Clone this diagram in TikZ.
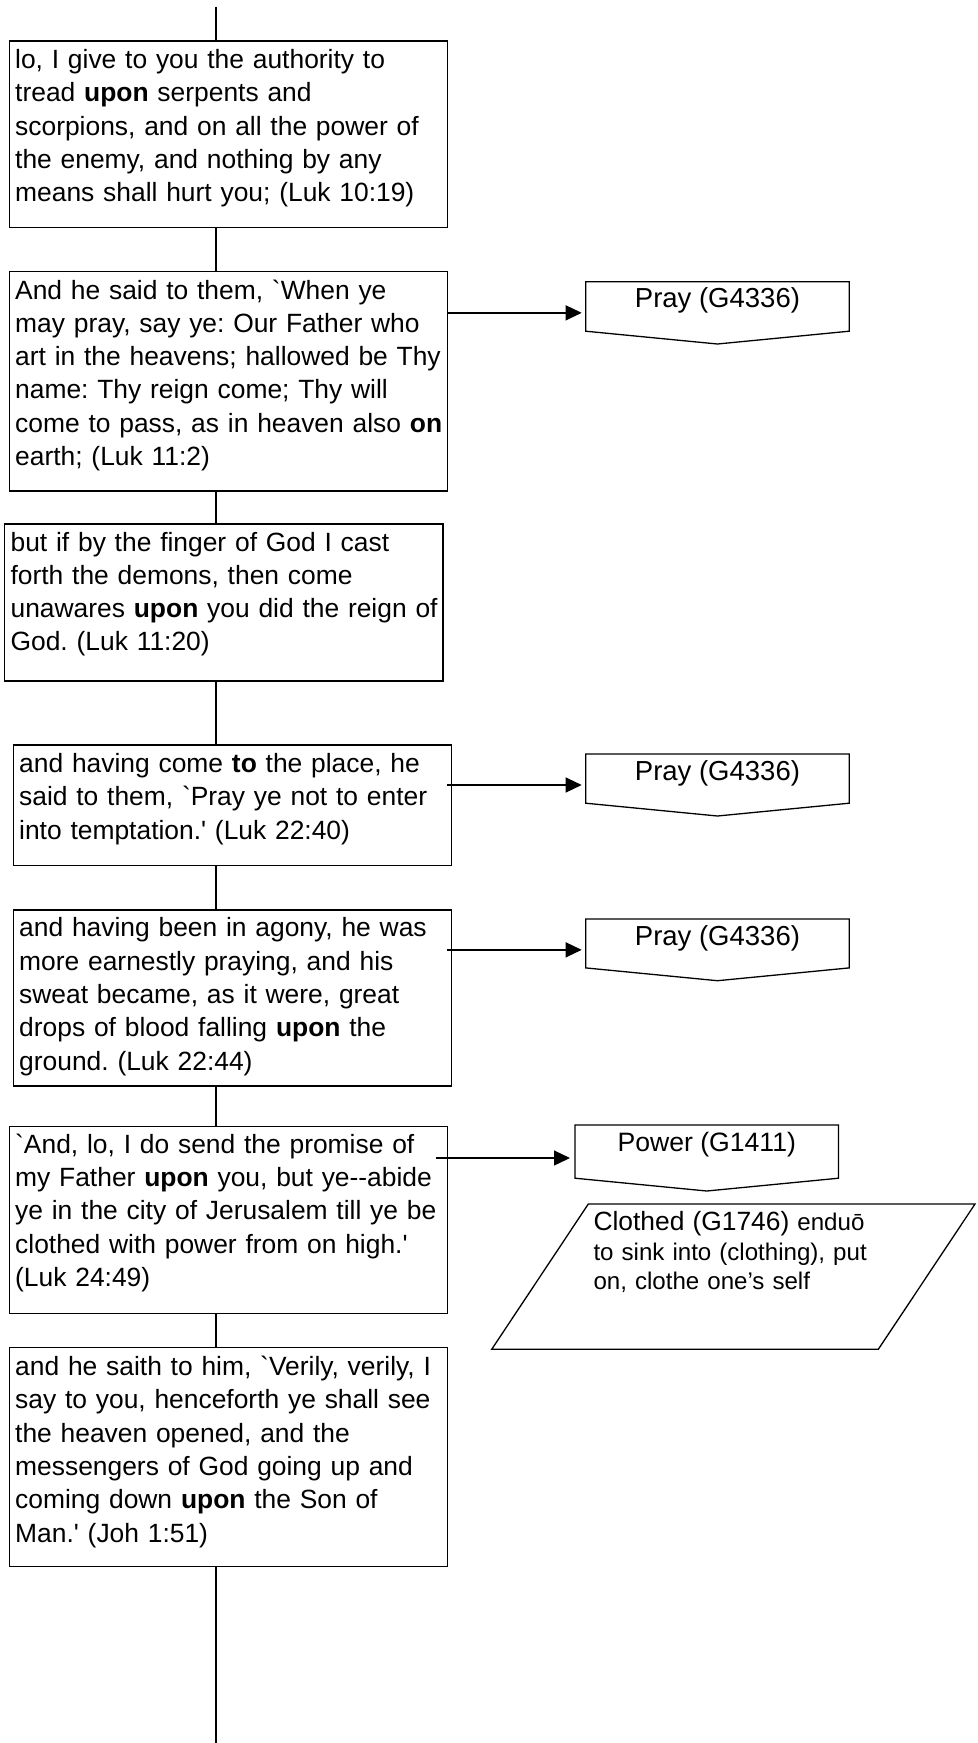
\documentclass[tikz,border=0pt]{standalone}
\usepackage{fontspec}
\newfontfamily\lsans{Liberation Sans}
\usetikzlibrary{arrows.meta,calc}
\frenchspacing
\begin{document}
\frenchspacing
\begin{tikzpicture}[x=1bp,y=-1bp,
  vbox/.style={draw, line width=1.3bp, minimum width=438.4bp, anchor=north west, inner sep=0pt, outer sep=0pt},
  vtxt/.style={anchor=base west, inner sep=0pt, text width=432bp, align=left,
    font=\lsans\frenchspacing\fontsize{26.4bp}{33.3bp}\selectfont},
  conn/.style={line width=1.3bp},
  arr/.style={line width=1.3bp, -{Triangle[length=16bp,width=15bp]}},
  frame/.style={draw=none, anchor=north west, inner sep=0pt, outer sep=0pt, minimum width=263.5bp},
  sh/.style={line width=1.3bp, line join=miter},
  ptxt/.style={anchor=base, inner sep=0pt, font=\lsans\fontsize{27.5bp}{33bp}\selectfont},
  wtxt/.style={anchor=base, inner sep=0pt, font=\lsans\fontsize{26.6bp}{33bp}\selectfont},
  ctxt/.style={anchor=base west, inner sep=0pt, text width=300bp, align=left,
    font=\lsans\frenchspacing\fontsize{24.1bp}{28.4bp}\selectfont}
]
\useasboundingbox (0,0) rectangle (977,1743);
\coordinate (top) at (216,6.7);
\coordinate (end) at (216,1743);

% main boxes
\node[vbox, minimum height=186.7bp] (b1) at (9.3,41) {};
\node[vbox, minimum height=219.3bp] (b2) at (9.3,271.7) {};
\node[vbox, minimum height=157bp]   (b3) at (4.7,524) {};
\node[vbox, minimum height=120.3bp] (b4) at (13.3,745) {};
\node[vbox, minimum height=176bp]   (b5) at (13.3,910) {};
\node[vbox, minimum height=186.6bp] (b6) at (9.3,1126.7) {};
\node[vbox, minimum height=219bp]   (b7) at (9.3,1347.7) {};

\node[vtxt] (t1) at ($(b1.north west)+(5.7,27.6)$) {lo, I give to you the authority to\\tread \textbf{upon} serpents and\\scorpions, and on all the power of\\the enemy, and nothing by any\\means shall hurt you; (Luk 10:19)};
\node[vtxt] (t2) at ($(b2.north west)+(5.7,27.3)$) {And he said to them, `When ye\\may pray, say ye: Our Father who\\art in the heavens; hallowed be Thy\\name: Thy reign come; Thy will\\come to pass, as in heaven also \textbf{on}\\earth; (Luk 11:2)};
\node[vtxt] (t3) at ($(b3.north west)+(5.7,27)$) {but if by the finger of God I cast\\forth the demons, then come\\unawares \textbf{upon} you did the reign of\\God. (Luk 11:20)};
\node[vtxt] (t4) at ($(b4.north west)+(5.7,27.6)$) {and having come \textbf{to} the place, he\\said to them, `Pray ye not to enter\\into temptation.' (Luk 22:40)};
\node[vtxt] (t5) at ($(b5.north west)+(5.7,26.8)$) {and having been in agony, he was\\more earnestly praying, and his\\sweat became, as it were, great\\drops of blood falling \textbf{upon} the\\ground. (Luk 22:44)};
\node[vtxt] (t6) at ($(b6.north west)+(5.7,26.6)$) {`And, lo, I do send the promise of\\my Father \textbf{upon} you, but ye--abide\\ye in the city of Jerusalem till ye be\\clothed with power from on high.'\\(Luk 24:49)};
\node[vtxt] (t7) at ($(b7.north west)+(5.7,27.8)$) {and he saith to him, `Verily, verily, I\\say to you, henceforth ye shall see\\the heaven opened, and the\\messengers of God going up and\\coming down \textbf{upon} the Son of\\Man.' (Joh 1:51)};

% spine
\draw[conn] (top) -- (top |- b1.north);
\draw[conn] (b1.south -| top) -- (b2.north -| top);
\draw[conn] (b2.south -| top) -- (b3.north -| top);
\draw[conn] (b3.south -| top) -- (b4.north -| top);
\draw[conn] (b4.south -| top) -- (b5.north -| top);
\draw[conn] (b5.south -| top) -- (b6.north -| top);
\draw[conn] (b6.south -| top) -- (b7.north -| top);
\draw[conn] (b7.south -| top) -- (end);

% Pray shapes
\node[frame, minimum height=62.3bp] (p1) at (585.7,281.7) {};
\node[frame, minimum height=62bp]   (p2) at (585.7,754) {};
\node[frame, minimum height=61.7bp] (p3) at (585.7,919) {};
\node[frame, minimum height=66bp]   (w1) at (575,1125) {};
\foreach \p in {p1,p2,p3,w1}{
  \draw[sh] (\p.north west) -- (\p.north east) -- ($(\p.south east)+(0,-12.8)$) -- (\p.south) -- ($(\p.south west)+(0,-12.8)$) -- cycle;
}
\node[ptxt] (p1t) at ($(p1.north)+(0,25.3)$) {Pray (G4336)};
\node[ptxt] (p2t) at ($(p2.north)+(0,26)$) {Pray (G4336)};
\node[ptxt] (p3t) at ($(p3.north)+(0,26)$) {Pray (G4336)};
\node[wtxt] (w1t) at ($(w1.north)+(0,26.7)$) {Power (G1411)};

% arrows
\draw[arr, shorten >=4bp] (b2.east |- p1.west) -- (p1.west);
\draw[arr, shorten >=4bp] ($(b4.east |- p2.west)+(-5,0)$) -- (p2.west);
\draw[arr, shorten >=4bp] ($(b5.east |- p3.west)+(-5,0)$) -- (p3.west);
\draw[arr, shorten >=5bp] ($(b6.east |- w1.west)+(-11.7,0)$) -- (w1.west);

% Clothed parallelogram
\node[frame, minimum width=483.3bp, minimum height=145.3bp] (c1) at (491.7,1204) {};
\draw[sh] ($(c1.north west)+(96.6,0)$) -- (c1.north east) -- ($(c1.south east)+(-96.7,0)$) -- (c1.south west) -- cycle;
\node[ctxt] (c1t) at ($(c1.north west)+(101.6,26.7)$) {{\fontsize{26.4bp}{28.4bp}\selectfont Clothed (G1746)} enduō\\[1.8bp]to sink into (clothing), put\\on, clothe one’s self};
\end{tikzpicture}
\end{document}
